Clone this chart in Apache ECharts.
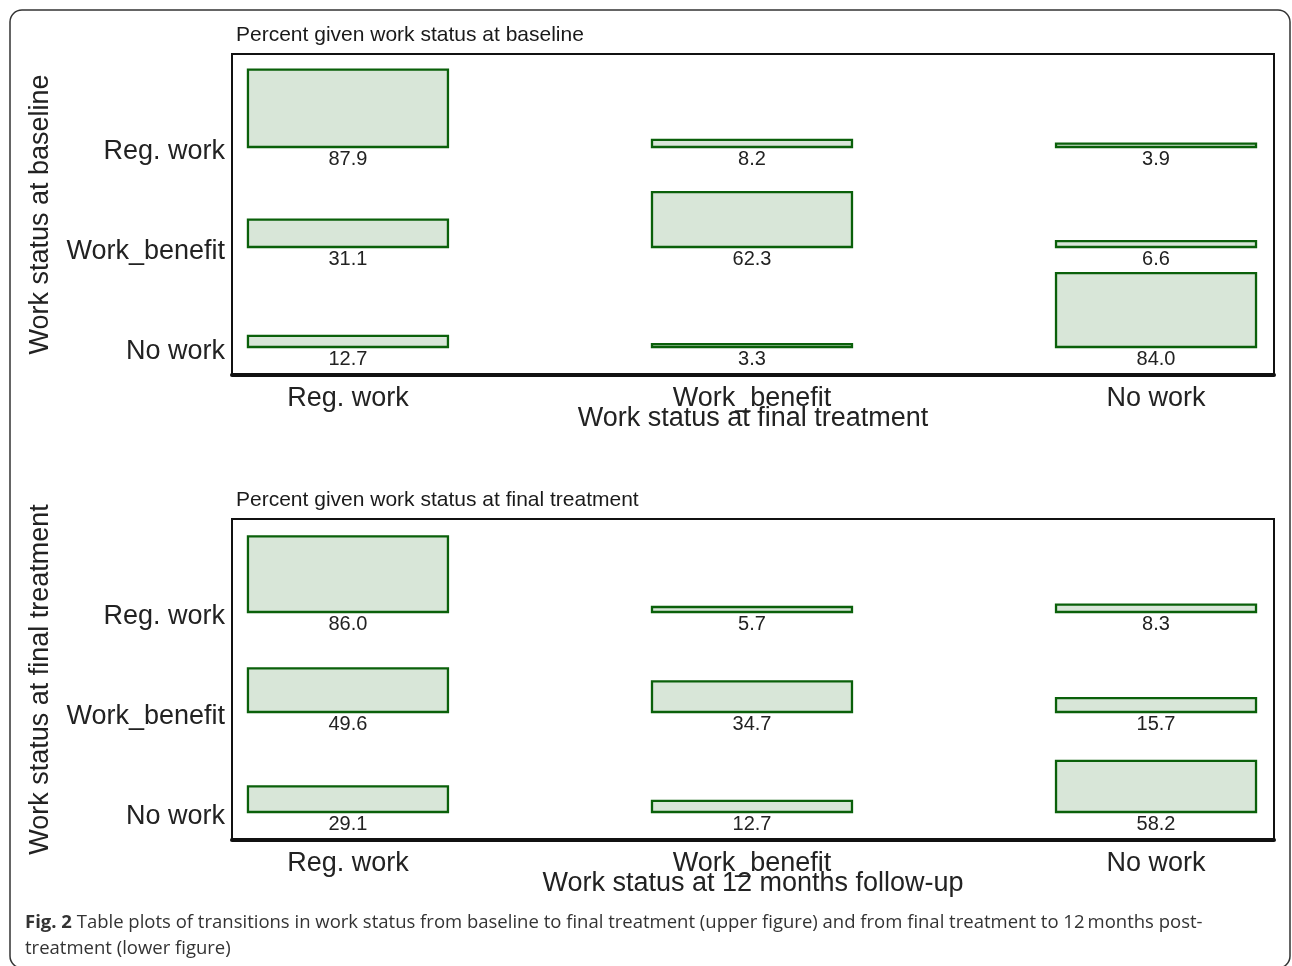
<!DOCTYPE html>
<html>
<head>
<meta charset="utf-8">
<title>Table plots of work status transitions</title>
<script src="https://cdn.jsdelivr.net/npm/echarts@6/dist/echarts.min.js"></script>
<style>
  html, body { margin: 0; padding: 0; background: #ffffff; }
  #chart { width: 1292px; height: 966px; }
</style>
</head>
<body>
<div id="chart"></div>
<script>
// Work status categories, shared by rows and columns
const statusLabels = ['Reg. work', 'Work_benefit', 'No work'];

// Percent at final treatment (columns) given work status at baseline (rows)
const baselineToFinal = [
  [87.9, 8.2, 3.9],
  [31.1, 62.3, 6.6],
  [12.7, 3.3, 84.0]
];

// Percent at 12 months follow-up (columns) given work status at final treatment (rows)
const finalToFollowUp = [
  [86.0, 5.7, 8.3],
  [49.6, 34.7, 15.7],
  [29.1, 12.7, 58.2]
];

const panelTitles = ['Percent given work status at baseline', 'Percent given work status at final treatment'];
const rowAxisNames = ['Work status at baseline', 'Work status at final treatment'];
const colAxisNames = ['Work status at final treatment', 'Work status at 12 months follow-up'];

const captionBold = 'Fig. 2';
const captionLines = [
  ' Table plots of transitions in work status from baseline to final treatment (upper figure) and from final treatment to 12\u2009months post-',
  'treatment (lower figure)'
];

const FONT = '"Liberation Sans", Arial, Helvetica, sans-serif';
const HALF_W = 0.2475;        // half width of a cell box, in column units
const UNIT_PER_PCT = 0.0088;  // box height per percent, in row units

// row value 3 = top row, 1 = bottom row; column value 1..3 left to right
function toCells(table) {
  const cells = [];
  table.forEach((row, r) => row.forEach((v, c) => cells.push([c + 1, 3 - r, v])));
  return cells;
}

function renderCell(params, api) {
  const col = api.value(0), row = api.value(1), pct = api.value(2);
  const p0 = api.coord([col - HALF_W, row]);
  const p1 = api.coord([col + HALF_W, row + pct * UNIT_PER_PCT]);
  return {
    type: 'group',
    children: [
      {
        type: 'rect',
        shape: { x: p0[0], y: p1[1], width: p1[0] - p0[0], height: p0[1] - p1[1] },
        style: { fill: '#d8e6d8', stroke: '#0a600a', lineWidth: 2.3 }
      },
      {
        type: 'text',
        x: (p0[0] + p1[0]) / 2,
        y: p0[1] + 2,
        style: {
          text: pct.toFixed(1), fill: '#222', fontSize: 20, fontFamily: FONT,
          align: 'center', verticalAlign: 'top'
        }
      }
    ]
  };
}

const gridTops = [54, 519];
const tables = [baselineToFinal, finalToFollowUp];

const option = {
  backgroundColor: '#ffffff',
  animation: false,
  title: [
    ...panelTitles.map((t, i) => ({
      text: t, left: 236, top: gridTops[i] - 29, padding: 0,
      textStyle: { fontSize: 21, fontWeight: 'normal', color: '#1a1a1a', fontFamily: FONT }
    })),
    {
      text: '{b|' + captionBold + '}' + captionLines[0] + '\n' + captionLines[1],
      left: 25, top: 910, padding: 0,
      textStyle: {
        fontSize: 18.5, fontWeight: 'normal', color: '#333', fontFamily: '"Open Sans", sans-serif', lineHeight: 26,
        rich: { b: { fontSize: 18.5, fontWeight: 'bold', color: '#333', fontFamily: '"Open Sans", sans-serif', lineHeight: 26 } }
      }
    }
  ],
  graphic: [{
    type: 'rect',
    shape: { x: 10, y: 10, width: 1280, height: 958, r: 12 },
    style: { fill: 'none', stroke: '#333', lineWidth: 1.5 },
    silent: true
  }],
  grid: gridTops.map(t => ({
    left: 232, top: t, width: 1042, height: 321,
    show: true, borderColor: '#111', borderWidth: 2, backgroundColor: 'transparent'
  })),
  xAxis: gridTops.map((t, i) => ({
    type: 'value', gridIndex: i, min: 0.713, max: 3.292,
    name: colAxisNames[i], nameLocation: 'middle', nameGap: 30, nameMoveOverlap: false,
    nameTextStyle: { fontSize: 27, color: '#222', fontFamily: FONT },
    splitLine: { show: false },
    axisTick: { show: false },
    axisLine: { show: true, onZero: false, lineStyle: { color: '#111', width: 4 } },
    axisLabel: {
      customValues: [1, 2, 3],
      formatter: v => statusLabels[Math.round(v) - 1],
      fontSize: 27, color: '#222', fontFamily: FONT, margin: 10
    }
  })),
  yAxis: gridTops.map((t, i) => ({
    type: 'value', gridIndex: i, min: 0.72, max: 3.93,
    name: rowAxisNames[i], nameLocation: 'middle', nameGap: 178, nameRotate: 90, nameMoveOverlap: false,
    nameTextStyle: { fontSize: 27, color: '#222', fontFamily: FONT },
    splitLine: { show: false },
    axisTick: { show: false },
    axisLine: { show: false },
    axisLabel: {
      customValues: [1, 2, 3],
      formatter: v => statusLabels[3 - Math.round(v)],
      fontSize: 27, color: '#222', fontFamily: FONT, margin: 7,
      verticalAlign: 'top', lineHeight: 9
    }
  })),
  series: tables.map((tbl, i) => ({
    type: 'custom', xAxisIndex: i, yAxisIndex: i,
    renderItem: renderCell, clip: false,
    data: toCells(tbl)
  }))
};

const chart = echarts.init(document.getElementById('chart'), null, { renderer: 'canvas' });
chart.setOption(option);
</script>
</body>
</html>
